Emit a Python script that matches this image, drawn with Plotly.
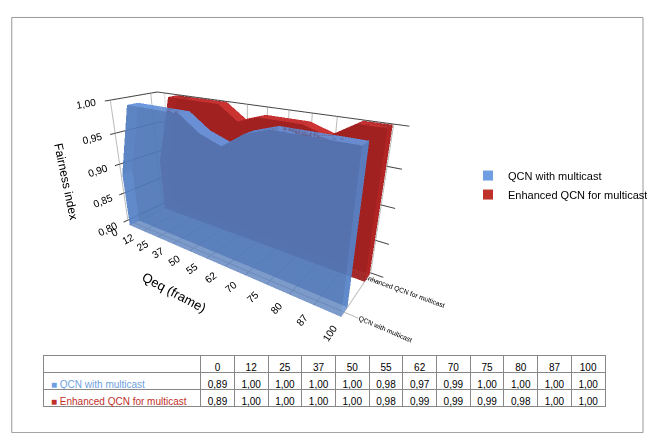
import plotly.graph_objects as go

categories = ["0","12","25","37","50","55","62","70","75","80","87","100"]
qcn = [0.89,1.00,1.00,1.00,1.00,0.98,0.97,0.99,1.00,1.00,1.00,1.00]
enh = [0.89,1.00,1.00,1.00,1.00,0.98,0.99,0.99,0.99,0.98,1.00,1.00]
series_names = ["QCN with multicast", "Enhanced QCN for multicast"]
colors = ["rgba(100,150,230,0.75)", "rgba(200,40,40,0.95)"]
legend_colors = ["#6f9fe0", "#c0302a"]
base = 0.80

def slab(vals, y0, y1, color, name):
    n = len(vals)
    xs, ys, zs = [], [], []
    for yy in (y0, y1):
        for i in range(n):
            xs += [i, i]; ys += [yy, yy]; zs += [base, vals[i]]
    I, J, K = [], [], []
    def idx(side, i, top): return side*2*n + 2*i + top
    for side in (0, 1):
        for i in range(n-1):
            a, b, c, d = idx(side,i,0), idx(side,i,1), idx(side,i+1,0), idx(side,i+1,1)
            I += [a, b]; J += [b, d]; K += [c, c]
    for i in range(n-1):
        a, b, c, d = idx(0,i,1), idx(0,i+1,1), idx(1,i,1), idx(1,i+1,1)
        I += [a, b]; J += [b, d]; K += [c, c]
    for i in (0, n-1):
        a, b, c, d = idx(0,i,0), idx(0,i,1), idx(1,i,0), idx(1,i,1)
        I += [a, b]; J += [b, d]; K += [c, c]
    return go.Mesh3d(x=xs, y=ys, z=zs, i=I, j=J, k=K, color=color, flatshading=True,
                     name=name, showlegend=False, hoverinfo="skip",
                     lighting=dict(ambient=0.8, diffuse=0.4, specular=0.1))

fig = go.Figure()
fig.add_trace(slab(enh, 1.0, 1.25, colors[1], series_names[1]))
fig.add_trace(slab(qcn, 0.0, 0.25, colors[0], series_names[0]))
for nm, c in zip(series_names, legend_colors):
    fig.add_trace(go.Scatter(x=[None], y=[None], mode="markers", name=nm,
                             marker=dict(symbol="square", size=10, color=c)))

fig.add_trace(go.Table(
    domain=dict(x=[0.04, 0.94], y=[0.0, 0.17]),
    columnwidth=[2.9] + [0.62]*12,
    header=dict(values=[""] + categories, fill_color="white",
                line_color="#888", font=dict(size=10, color="black"), height=17),
    cells=dict(values=[["■ " + series_names[0], "■ " + series_names[1]]] +
               [[f"{a:.2f}".replace(".", ","), f"{b:.2f}".replace(".", ",")] for a, b in zip(qcn, enh)],
               fill_color="white", line_color="#888",
               font=dict(size=10, color=[[legend_colors[0], legend_colors[1]]] + [["black"]]*12),
               height=17, align=["left"] + ["center"]*12)))

fig.update_layout(
    width=655, height=433, paper_bgcolor="white", plot_bgcolor="white",
    margin=dict(l=10, r=10, t=25, b=20),
    font=dict(family="Liberation Sans", size=11, color="black"),
    xaxis=dict(visible=False), yaxis=dict(visible=False),
    legend=dict(x=0.72, y=0.67, font=dict(size=11), bgcolor="rgba(0,0,0,0)"),
    scene=dict(
        domain=dict(x=[0.0, 0.74], y=[0.20, 1.0]),
        xaxis=dict(title=dict(text="Qeq (frame)", font=dict(size=13)), tickvals=list(range(12)),
                   ticktext=categories, showbackground=False, gridcolor="#bbb", range=[-0.5, 11.5]),
        yaxis=dict(title="", tickvals=[0.12, 1.12], ticktext=series_names, showbackground=False,
                   gridcolor="#bbb", range=[0, 1.3], tickfont=dict(size=9)),
        zaxis=dict(title=dict(text="Fairness index", font=dict(size=12)), range=[0.80, 1.00],
                   tickvals=[0.80,0.85,0.90,0.95,1.00],
                   ticktext=["0,80","0,85","0,90","0,95","1,00"], showbackground=False, gridcolor="#444"),
        aspectmode="manual", aspectratio=dict(x=1.8, y=0.45, z=0.9),
        camera=dict(eye=dict(x=1.3, y=-1.7, z=0.9), center=dict(x=0.1, y=0, z=0))))
fig.add_shape(type="rect", xref="paper", yref="paper", x0=-0.01, y0=-0.03, x1=1.0, y1=1.04,
              line=dict(color="#999", width=1))
fig.write_html("out.html")
